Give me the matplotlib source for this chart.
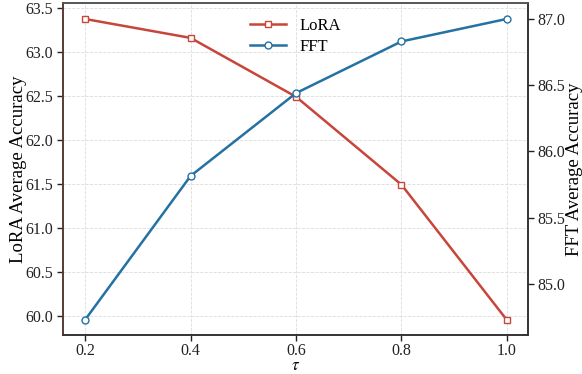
import matplotlib
matplotlib.use("Agg")
import matplotlib.pyplot as plt

plt.rcParams['font.family'] = ['Liberation Serif', 'DejaVu Serif']
plt.rcParams['mathtext.fontset'] = 'stix'

tau = [0.2, 0.4, 0.6, 0.8, 1.0]
lora_acc = [63.375, 63.16, 62.49, 61.49, 59.95]
fft_acc = [84.73, 85.815, 86.44, 86.83, 87.0]
tau_ticks = [0.2, 0.4, 0.6, 0.8, 1.0]
lora_ticks = [60.0, 60.5, 61.0, 61.5, 62.0, 62.5, 63.0, 63.5]
fft_ticks = [85.0, 85.5, 86.0, 86.5, 87.0]

red = '#c8453a'
blue = '#2471a3'

fig = plt.figure(figsize=(5.82, 3.74), dpi=100)
ax = fig.add_axes([63 / 582, 1 - 335 / 374, 465 / 582, 332 / 374])
ax2 = ax.twinx()

l1, = ax.plot(tau, lora_acc, color=red, lw=1.8, marker='s', ms=5,
              mfc='white', mec=red, mew=1.0, label='LoRA')
l2, = ax2.plot(tau, fft_acc, color=blue, lw=1.8, marker='o', ms=5,
               mfc='white', mec=blue, mew=1.0, label='FFT')

ax.set_xlim(0.158, 1.04)
ax.set_ylim(59.78, 63.557)
ax2.set_ylim(84.615, 87.12)
ax.set_xticks(tau_ticks)
ax.set_xticklabels([f'{t:.1f}' for t in tau_ticks])
ax.set_yticks(lora_ticks)
ax.set_yticklabels([f'{t:.1f}' for t in lora_ticks])
ax2.set_yticks(fft_ticks)
ax2.set_yticklabels([f'{t:.1f}' for t in fft_ticks])

ax.grid(True, ls='--', lw=0.6, color='#dcdcdc')
ax.set_axisbelow(True)

for a in (ax, ax2):
    a.tick_params(direction='out', length=4, width=1.0, labelsize=11.5,
                  colors='#222222', pad=3)
    for s in a.spines.values():
        s.set_color('#333333')
        s.set_linewidth(1.2)
ax.tick_params(axis='x', pad=2)
ax.spines['left'].set_color('#5a3a35')
ax2.spines['left'].set_color('#5a3a35')
ax.spines['top'].set_color('#555555')
ax2.spines['top'].set_color('#555555')

ax.set_xlabel(r'$\tau$', fontsize=12)
ax.xaxis.set_label_coords(0.5, -0.07)
ax.set_ylabel('LoRA Average Accuracy', fontsize=13.5, labelpad=-1)
ax2.set_ylabel('FFT Average Accuracy', fontsize=13.5, labelpad=0)

ax.legend(handles=[l1, l2], loc='upper center', bbox_to_anchor=(0.5, 1.0),
          frameon=False, fontsize=12, handlelength=2.2, labelspacing=0.3)

fig.savefig('out.png', dpi=100)
